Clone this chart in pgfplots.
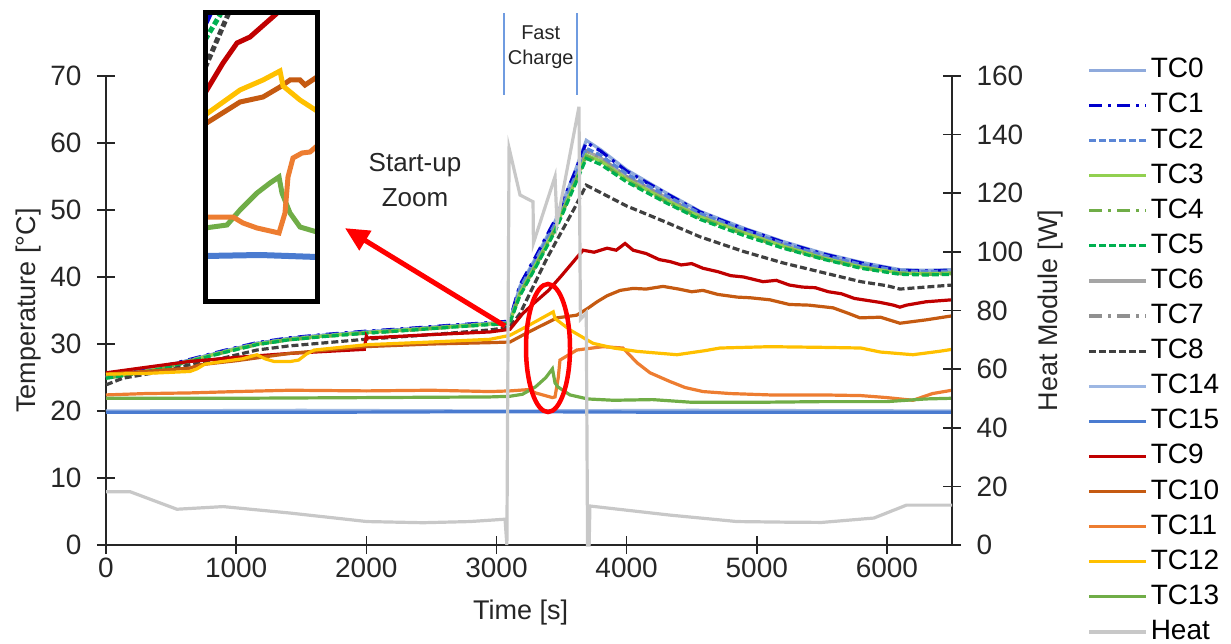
\documentclass[border=0pt]{standalone}
\usepackage{fontspec}
\setmainfont{Liberation Sans}
\usepackage{pgfplots}
\pgfplotsset{compat=1.18}
\usetikzlibrary{arrows.meta}
\definecolor{cTCa}{HTML}{8FAADC}
\definecolor{cTCb}{HTML}{0000CC}
\definecolor{cTCc}{HTML}{5B86D6}
\definecolor{cTCd}{HTML}{92D050}
\definecolor{cTCe}{HTML}{70AD47}
\definecolor{cTCf}{HTML}{00B050}
\definecolor{cTCg}{HTML}{A5A5A5}
\definecolor{cTCh}{HTML}{909090}
\definecolor{cTCi}{HTML}{404040}
\definecolor{cTCn}{HTML}{9DB7E3}
\definecolor{cTCo}{HTML}{4A7BD0}
\definecolor{cTCj}{HTML}{C00000}
\definecolor{cTCk}{HTML}{C55A11}
\definecolor{cTCl}{HTML}{ED7D31}
\definecolor{cTCm}{HTML}{FFC000}
\definecolor{cTCp}{HTML}{70AD47}
\definecolor{cHeat}{HTML}{C8C8C8}
\definecolor{axcol}{HTML}{262626}
\definecolor{fcblue}{HTML}{6F9BE0}

\pgfplotstableread{
t    a    b    c    d    e    f    g    h
0    25.2 25.2 25.1 25.0 24.9 24.9 25.0 25.0
150  25.6 25.6 25.5 25.4 25.3 25.3 25.4 25.4
400  26.5 26.5 26.4 26.3 26.2 26.2 26.3 26.3
645  27.6 27.7 27.6 27.5 27.4 27.4 27.5 27.5
900  28.9 29.0 28.9 28.8 28.7 28.7 28.8 28.8
1160 30.1 30.2 30.1 30.0 29.9 29.9 30.0 30.0
1400 30.8 30.9 30.8 30.7 30.6 30.6 30.7 30.7
1667 31.3 31.4 31.3 31.2 31.1 31.1 31.2 31.2
1990 31.8 31.9 31.8 31.7 31.6 31.6 31.7 31.7
2300 32.2 32.3 32.2 32.1 32.0 32.0 32.1 32.1
2650 32.7 32.8 32.7 32.6 32.5 32.5 32.6 32.6
2950 33.1 33.2 33.1 33.0 32.9 32.9 33.0 33.0
3100 33.3 33.4 33.2 33.1 33.0 33.0 33.1 33.1
3180 38.6 38.8 38.3 37.6 37.4 37.2 38.0 38.0
3300 42.8 43.0 42.5 41.8 41.6 41.4 42.2 42.2
3450 48.3 48.5 47.9 47.2 47.0 46.8 47.6 47.6
3600 55.6 55.5 54.8 54.0 53.8 53.6 54.5 54.5
3690 60.4 60.1 59.2 58.2 58.0 57.7 58.8 58.8
3800 59.0 58.8 58.2 57.3 57.1 56.8 57.8 57.8
4000 56.0 55.8 55.4 54.6 54.4 54.2 55.0 55.0
4300 52.6 52.5 52.2 51.5 51.3 51.1 51.9 51.9
4564 49.8 49.7 49.5 49.0 48.8 48.6 49.2 49.2
4900 47.3 47.2 47.0 46.6 46.4 46.2 46.8 46.8
5202 45.3 45.2 45.0 44.6 44.4 44.3 44.8 44.8
5500 43.6 43.5 43.3 42.9 42.8 42.7 43.1 43.1
5800 42.2 42.1 41.9 41.5 41.4 41.3 41.7 41.7
6100 41.1 41.0 40.9 40.6 40.5 40.4 40.7 40.7
6300 41.0 40.9 40.8 40.5 40.4 40.3 40.6 40.6
6500 41.1 41.0 40.9 40.6 40.5 40.4 40.7 40.7
}\topgroup

\begin{document}
\begin{tikzpicture}[x=1pt,y=1pt]
\useasboundingbox (0,0) rectangle (1231,643);
\pgfplotsset{
  tcstyle/.style={line width=3.2pt},
  dashdotpat/.style={dash pattern=on 13pt off 6pt on 3pt off 6pt},
  dashpat/.style={dash pattern=on 7pt off 3pt},
}
\begin{axis}[
  at={(106pt,98pt)}, anchor=south west,
  scale only axis, width=846pt, height=469pt,
  xmin=0, xmax=6500, ymin=0, ymax=70,
  axis x line*=bottom, axis y line*=left,
  axis line style={-, line width=1.6pt, axcol},
  xtick={0,1000,...,6000}, ytick={0,10,...,70},
  tick align=center, major tick length=18pt,
  tick style={line width=1.6pt, axcol},
  scaled x ticks=false,
  /pgf/number format/assume math mode=true,
  /pgf/number format/1000 sep={},
  ticklabel style={font=\fontsize{28}{30}\selectfont, text=axcol},
  yticklabel style={xshift=-12pt},
  xlabel={Time [s]}, ylabel={Temperature [°C]},
  label style={font=\fontsize{27}{30}\selectfont, text=axcol},
  xlabel style={at={(axis description cs:0.49,-0.145)}, anchor=center},
  ylabel style={at={(axis description cs:-0.0916,0.5)}, anchor=center},
  clip=false,
  legend style={at={(axis description cs:1.16,1.05)}, anchor=north west,
    draw=none, fill=none, font=\fontsize{28}{30}\selectfont,
    row sep=0pt, inner sep=0pt,
    nodes={inner ysep=4pt, inner xsep=3pt, text height=21.1pt, text depth=6pt}},
  legend cell align=left,
  legend image code/.code={\draw[#1] (0pt,0pt) -- (57pt,0pt);},
]
% grey TC6/TC7 drawn first (underneath)
\addplot[tcstyle, cTCg, forget plot] table[x=t,y=g] {\topgroup};
\addplot[tcstyle, cTCh, dashdotpat, forget plot] table[x=t,y=h] {\topgroup};
\addplot[tcstyle, cTCa] table[x=t,y=a] {\topgroup};
\addlegendentry{TC0}
\addplot[tcstyle, cTCb, dashdotpat] table[x=t,y=b] {\topgroup};
\addlegendentry{TC1}
\addplot[tcstyle, cTCc, dashpat] table[x=t,y=c] {\topgroup};
\addlegendentry{TC2}
\addplot[tcstyle, cTCd] table[x=t,y=d] {\topgroup};
\addlegendentry{TC3}
\addplot[tcstyle, cTCe, dashdotpat] table[x=t,y=e] {\topgroup};
\addlegendentry{TC4}
\addplot[tcstyle, cTCf, dashpat] table[x=t,y=f] {\topgroup};
\addlegendentry{TC5}
\addlegendimage{tcstyle, cTCg}
\addlegendentry{TC6}
\addlegendimage{tcstyle, cTCh, dashdotpat}
\addlegendentry{TC7}
\addplot[tcstyle, cTCi, dashpat] coordinates {
(0,23.9) (130,24.9) (400,25.8) (645,26.9) (900,27.9) (1160,29.1) (1400,29.7)
(1990,30.7) (2500,31.4) (2950,32.1) (3100,32.5) (3180,34.5) (3388,42.8)
(3600,50.3) (3690,53.7) (3800,52.6) (4000,50.6) (4300,48.2) (4564,46.0)
(4900,43.8) (5202,42.1) (5500,40.7) (5800,39.3) (6000,38.7) (6100,38.2)
(6300,38.5) (6500,38.8)};
\addlegendentry{TC8}
\addplot[tcstyle, cTCn] coordinates {(0,20.0) (1500,20.1) (3000,20.0) (4500,20.1) (6500,20.0)};
\addlegendentry{TC14}
\addplot[tcstyle, cTCo] coordinates {(0,19.8) (1500,19.8) (3000,19.9) (4500,19.8) (6500,19.8)};
\addlegendentry{TC15}
\addplot[tcstyle, cTCj] coordinates {
(0,25.7) (300,26.5) (645,27.4) (1000,28.0) (1414,28.6) (1700,28.9) (1985,29.2)
(2000,31.2) (2010,30.9) (2500,31.4) (2950,31.8) (3104,32.2) (3200,34.5)
(3300,36.3) (3400,38.0) (3500,40.2) (3600,42.5) (3665,44.0) (3750,43.7)
(3850,44.3) (3920,44.0) (3988,45.0) (4050,44.0) (4150,43.5) (4250,42.6)
(4333,42.3) (4420,41.8) (4500,42.0) (4587,41.3) (4700,40.8) (4800,40.2)
(4900,40.0) (5048,39.3) (5150,39.5) (5250,38.8) (5350,38.5) (5450,38.4)
(5550,37.8) (5650,37.5) (5750,36.8) (5850,36.5) (5950,36.2) (6050,35.8)
(6100,35.5) (6150,35.8) (6300,36.3) (6500,36.6)};
\addlegendentry{TC9}
\addplot[tcstyle, cTCk] coordinates {
(0,25.5) (300,25.9) (645,26.4) (722,26.9) (1000,27.5) (1414,28.6) (1990,29.6)
(2500,30.0) (2950,30.2) (3104,30.3) (3200,31.3) (3310,32.4) (3465,33.9)
(3617,34.3) (3700,35.3) (3773,36.3) (3850,37.2) (3950,38.0) (4050,38.3)
(4150,38.2) (4280,38.6) (4400,38.2) (4500,37.8) (4587,38.0) (4700,37.4)
(4850,37.0) (4950,36.9) (5100,36.6) (5250,35.9) (5400,35.8) (5586,35.4)
(5700,34.6) (5793,33.9) (5950,34.0) (6100,33.1) (6300,33.6) (6500,34.2)};
\addlegendentry{TC10}
\addplot[tcstyle, cTCl] coordinates {
(0,22.4) (300,22.6) (645,22.7) (1000,22.9) (1414,23.1) (2000,23.0) (2500,23.1)
(2950,22.9) (3104,23.0) (3250,23.2) (3300,22.7) (3430,22.0) (3450,22.1)
(3475,25.0) (3488,27.6) (3617,29.1) (3818,29.6) (3972,29.4) (4080,27.2)
(4180,25.7) (4333,24.4) (4450,23.5) (4587,22.9) (4800,22.6) (5100,22.4)
(5500,22.4) (5800,22.3) (6000,22.0) (6200,21.6) (6350,22.6) (6500,23.1)};
\addlegendentry{TC11}
\addplot[tcstyle, cTCm] coordinates {
(0,25.5) (300,25.6) (645,25.9) (700,26.3) (760,27.0) (900,27.4) (1050,27.8)
(1160,28.4) (1220,27.8) (1290,27.4) (1420,27.4) (1480,27.6) (1540,28.5)
(1600,29.1) (2005,29.9) (2500,30.3) (2950,30.7) (3104,31.3) (3250,32.8)
(3436,34.8) (3450,33.8) (3565,32.1) (3742,30.1) (3900,29.4) (4080,28.9)
(4387,28.4) (4600,29.0) (4718,29.4) (5100,29.6) (5500,29.5) (5800,29.4)
(5950,28.8) (6200,28.4) (6400,28.9) (6500,29.2)};
\addlegendentry{TC12}
\addplot[tcstyle, cTCp] coordinates {
(0,21.9) (1000,21.9) (2000,22.0) (2950,22.1) (3104,22.2) (3200,22.5)
(3300,23.6) (3380,25.0) (3430,26.3) (3450,24.2) (3472,23.6) (3565,22.4)
(3700,21.8) (3900,21.6) (4200,21.7) (4500,21.3) (5000,21.3) (5500,21.4)
(6000,21.4) (6300,21.8) (6500,21.9)};
\addlegendentry{TC13}
\addlegendimage{line width=3.2pt, cHeat}
\addlegendentry{Heat}
\end{axis}

\begin{axis}[
  at={(106pt,98pt)}, anchor=south west,
  scale only axis, width=846pt, height=469pt,
  xmin=0, xmax=6500, ymin=0, ymax=160,
  axis x line=none, axis y line*=right,
  axis line style={-, line width=1.6pt, axcol},
  ytick={0,20,...,160},
  tick align=center, major tick length=18pt,
  tick style={line width=1.6pt, axcol},
  /pgf/number format/assume math mode=true,
  ticklabel style={font=\fontsize{28}{30}\selectfont, text=axcol},
  yticklabel style={xshift=12pt},
  ylabel={Heat Module [W]},
  label style={font=\fontsize{27}{30}\selectfont, text=axcol},
  ylabel style={at={(axis description cs:1.117,0.5)}, anchor=center},
  clip=false,
]
\addplot[line width=3.2pt, cHeat] coordinates {
(0,18.2) (184,18.2) (545,12.2) (900,13.1) (1414,10.9) (2005,8.0) (2436,7.6)
(2797,8.0) (3066,8.8) (3080,0) (3097,135.4) (3181,119.4) (3281,117.1)
(3284,103) (3450,125.7) (3465,109.9) (3634,149.5) (3645,77) (3690,79.2)
(3700,0) (3712,0) (3718,13.3) (4333,10.2) (4848,8.0) (5200,7.8) (5500,7.7)
(5900,9.2) (6150,13.6) (6500,13.6)};
% annotations
\draw[fcblue, line width=1.4pt] (axis cs:3058,153.6) -- (axis cs:3058,181.5);
\draw[fcblue, line width=1.4pt] (axis cs:3618,153.6) -- (axis cs:3618,181.5);
\node[align=center, font=\fontsize{20}{25}\selectfont, text=axcol] at (axis cs:3340,169.8) {Fast\\Charge};
\node[align=center, font=\fontsize{26}{35}\selectfont, text=axcol] at (axis cs:2374,124.6) {Start-up\\Zoom};
\draw[red, line width=5pt, -{Triangle[length=24pt,width=22pt]}] (axis cs:3066,74.7) -- (axis cs:1836,108.1);
\draw[red, line width=4.5pt] (axis cs:3396,67.2) ellipse [x radius=22pt, y radius=64pt];
\end{axis}

% inset
\begin{axis}[
  at={(205pt,341pt)}, anchor=south west,
  scale only axis, width=112pt, height=289pt,
  xmin=205, xmax=317, ymin=13, ymax=302, y dir=reverse,
  hide axis, clip=true,
]
\addplot[line width=6pt, cTCo] coordinates {(205,256) (260,255) (317,257)};
\addplot[line width=5pt, cTCp] coordinates {(205,228) (227,225) (240,210) (257,193) (270,183) (279,177) (282,193) (290,213) (300,227) (317,232)};
\addplot[line width=5pt, cTCl] coordinates {(205,217) (233,217) (243,223) (257,228) (279,233) (285,213) (288,177) (293,158) (302,153) (310,152) (317,146)};
\addplot[line width=5pt, cTCk] coordinates {(205,124) (240,102) (263,97) (280,87) (290,80) (300,80) (305,85) (317,77)};
\addplot[line width=5pt, cTCm] coordinates {(205,115) (240,90) (263,80) (280,71) (283,86) (300,100) (317,111)};
\addplot[line width=5pt, cTCj] coordinates {(205,93) (223,63) (237,43) (250,37) (275,15) (280,10)};
\addplot[line width=5pt, cTCi, dash pattern=on 6pt off 3pt] coordinates {(205,68) (227,17) (230,10)};
\addplot[line width=5pt, cTCf, dash pattern=on 6pt off 3pt] coordinates {(205,40) (220,15) (222,10)};
\addplot[line width=5pt, cTCb] coordinates {(205,25) (212,10)};
\end{axis}
\draw[line width=5pt, black] (205,341) rectangle (317,630);
\end{tikzpicture}
\end{document}
